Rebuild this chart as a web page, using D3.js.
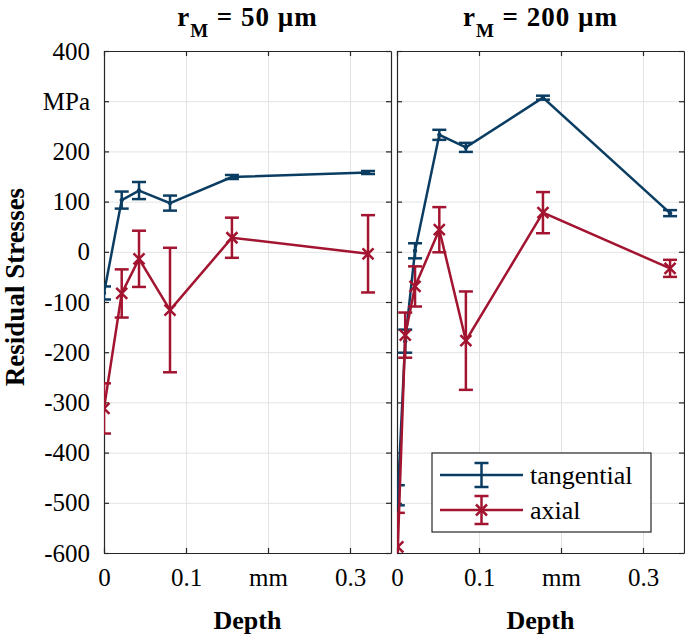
<!DOCTYPE html>
<html>
<head>
<meta charset="utf-8">
<script src="https://cdn.jsdelivr.net/npm/d3@7"></script>
<style>
  html, body { margin: 0; padding: 0; background: #fff; }
  svg { display: block; }
</style>
</head>
<body>
<svg id="chart" width="685" height="637"></svg>
<script>
// ---- data ----
const panelTitles = ["50 µm", "200 µm"];
const xTickValues = [0, 0.1, 0.2, 0.3];
const xTickLabels = ["0", "0.1", "mm", "0.3"];
const yTickValues = [400, 300, 200, 100, 0, -100, -200, -300, -400, -500, -600];
const yTickLabels = ["400", "MPa", "200", "100", "0", "-100", "-200", "-300", "-400", "-500", "-600"];
const seriesNames = ["tangential", "axial"];

const depthL = [0, 0.0216, 0.0427, 0.0805, 0.156, 0.322];
const tangL = [-82, 103, 122, 97, 149, 158];
const tangLErr = [13, 17, 17, 15, 4, 3];
const axialL = [-312, -83, -14, -116, 28, -4];
const axialLErr = [50, 48, 56, 124, 40, 77];

const depthR = [0.001, 0.01, 0.022, 0.0516, 0.084, 0.178, 0.333];
const tangR = [-485, -178, 2, 233, 208, 307, 77];
const tangRErr = [20, 23, 15, 10, 9, 4, 6];
const axialR = [-588, -166, -69, 44, -177, 78, -33];
const axialRErr = [68, 45, 40, 45, 98, 41, 17];

// ---- styling ----
const blue = "#0b3d63";
const red = "#a2142f";
const axisColor = "#262626";
const gridColor = "#e3e3e3";
const tickFont = 25;
const serif = '"Liberation Serif", "Times New Roman", Times, "DejaVu Serif", "Noto Serif", serif';

const svg = d3.select("#chart");
const topY = 51, pw = 287, ph = 502;
const panels = [
  { left: 104, title: panelTitles[0], depth: depthL, t: tangL, te: tangLErr, a: axialL, ae: axialLErr, yLabels: true },
  { left: 397, title: panelTitles[1], depth: depthR, t: tangR, te: tangRErr, a: axialR, ae: axialRErr, yLabels: false }
];

const x = d3.scaleLinear().domain([0, 0.35]).range([0, pw]);
const y = d3.scaleLinear().domain([-600, 400]).range([ph, 0]);

panels.forEach((p, pi) => {
  const g = svg.append("g").attr("transform", `translate(${p.left},${topY})`);
  const clipId = "clip" + pi;
  g.append("clipPath").attr("id", clipId).append("rect").attr("width", pw).attr("height", ph);

  // grid
  g.append("g").attr("class", "grid")
    .attr("transform", `translate(0,${ph})`)
    .call(d3.axisBottom(x).tickValues(xTickValues.slice(1)).tickSize(-ph).tickFormat(""))
    .call(s => s.select(".domain").remove())
    .call(s => s.selectAll("line").attr("stroke", gridColor).attr("stroke-width", 1));
  g.append("g").attr("class", "grid")
    .call(d3.axisLeft(y).tickValues(yTickValues.slice(1, -1)).tickSize(-pw).tickFormat(""))
    .call(s => s.select(".domain").remove())
    .call(s => s.selectAll("line").attr("stroke", gridColor).attr("stroke-width", 1));

  // axes
  const styleAxis = s => {
    s.attr("font-family", serif);
    s.select(".domain").attr("stroke", axisColor).attr("stroke-width", 1.2);
    s.selectAll(".tick line").attr("stroke", axisColor).attr("stroke-width", 1.2);
    s.selectAll("text").attr("fill", "#000").attr("font-size", tickFont).attr("font-family", serif);
  };
  g.append("g").attr("transform", `translate(0,${ph})`)
    .call(d3.axisBottom(x).tickValues(xTickValues).tickSizeInner(-5).tickSizeOuter(0).tickPadding(15)
      .tickFormat((d, i) => xTickLabels[i]))
    .call(styleAxis);
  g.append("g")
    .call(d3.axisTop(x).tickValues(xTickValues).tickSizeInner(-5).tickSizeOuter(0).tickFormat(""))
    .call(styleAxis);
  g.append("g")
    .call(d3.axisLeft(y).tickValues(yTickValues).tickSizeInner(-5).tickSizeOuter(0).tickPadding(14)
      .tickFormat((d, i) => p.yLabels ? yTickLabels[i] : ""))
    .call(styleAxis);
  g.append("g").attr("transform", `translate(${pw},0)`)
    .call(d3.axisRight(y).tickValues(yTickValues).tickSizeInner(-5).tickSizeOuter(0).tickFormat(""))
    .call(styleAxis);

  // title
  const tt = g.append("text").attr("x", pw / 2).attr("y", -25).attr("font-family", serif)
    .attr("text-anchor", "middle").attr("font-weight", "bold").attr("font-size", 27)
    .attr("letter-spacing", 1);
  tt.append("tspan").text("r");
  tt.append("tspan").attr("dy", 11).attr("font-size", 19).text("M");
  tt.append("tspan").attr("dy", -11).text(" = " + p.title);

  // x label
  g.append("text").attr("x", pw / 2).attr("y", ph + 76).attr("font-family", serif)
    .attr("text-anchor", "middle").attr("font-weight", "bold").attr("font-size", 26).text("Depth");

  // data
  const dg = g.append("g").attr("clip-path", `url(#${clipId})`);
  const series = [
    { v: p.t, e: p.te, color: blue, marker: "dot" },
    { v: p.a, e: p.ae, color: red, marker: "x" }
  ];
  series.forEach(s => {
    const pts = p.depth.map((d, i) => ({ d, v: s.v[i], e: s.e[i] }));
    dg.append("path").datum(pts)
      .attr("fill", "none").attr("stroke", s.color).attr("stroke-width", 2.5)
      .attr("d", d3.line().x(q => x(q.d)).y(q => y(q.v)));
    const eb = dg.append("g").attr("stroke", s.color).attr("stroke-width", 2.5);
    pts.forEach(q => {
      const cx = x(q.d), y1 = y(q.v + q.e), y2 = y(q.v - q.e);
      eb.append("line").attr("x1", cx).attr("x2", cx).attr("y1", y1).attr("y2", y2);
      eb.append("line").attr("x1", cx - 7).attr("x2", cx + 7).attr("y1", y1).attr("y2", y1);
      eb.append("line").attr("x1", cx - 7).attr("x2", cx + 7).attr("y1", y2).attr("y2", y2);
      if (s.marker === "dot") {
        eb.append("circle").attr("cx", cx).attr("cy", y(q.v)).attr("r", 2.2).attr("fill", s.color).attr("stroke", "none");
      } else {
        const cy = y(q.v), m = 5.5;
        eb.append("path").attr("d", `M${cx - m},${cy - m}L${cx + m},${cy + m}M${cx - m},${cy + m}L${cx + m},${cy - m}`)
          .attr("fill", "none");
      }
    });
  });
});

// y label
svg.append("text").attr("transform", "translate(24,287) rotate(-90)").attr("font-family", serif)
  .attr("text-anchor", "middle").attr("font-weight", "bold").attr("font-size", 27).text("Residual Stresses");

// legend
const lg = svg.append("g").attr("transform", "translate(432,453)");
lg.append("rect").attr("width", 219).attr("height", 79).attr("fill", "#fff")
  .attr("stroke", axisColor).attr("stroke-width", 1.2);
[{ c: blue, m: "none", ey: 12 }, { c: red, m: "x", ey: 14 }].forEach((s, i) => {
  const cy = 22 + i * 35;
  const r = lg.append("g").attr("stroke", s.c).attr("stroke-width", 2.5);
  r.append("line").attr("x1", 8).attr("x2", 91).attr("y1", cy).attr("y2", cy);
  const cx = 49.5;
  r.append("line").attr("x1", cx).attr("x2", cx).attr("y1", cy - s.ey).attr("y2", cy + s.ey);
  r.append("line").attr("x1", cx - 7).attr("x2", cx + 7).attr("y1", cy - s.ey).attr("y2", cy - s.ey);
  r.append("line").attr("x1", cx - 7).attr("x2", cx + 7).attr("y1", cy + s.ey).attr("y2", cy + s.ey);
  if (s.m === "x") {
    const m = 5.5;
    r.append("path").attr("d", `M${cx - m},${cy - m}L${cx + m},${cy + m}M${cx - m},${cy + m}L${cx + m},${cy - m}`);
  }
  lg.append("text").attr("x", 98).attr("y", cy + 9).attr("font-family", serif).attr("font-size", 26).text(seriesNames[i]);
});
</script>
</body>
</html>
